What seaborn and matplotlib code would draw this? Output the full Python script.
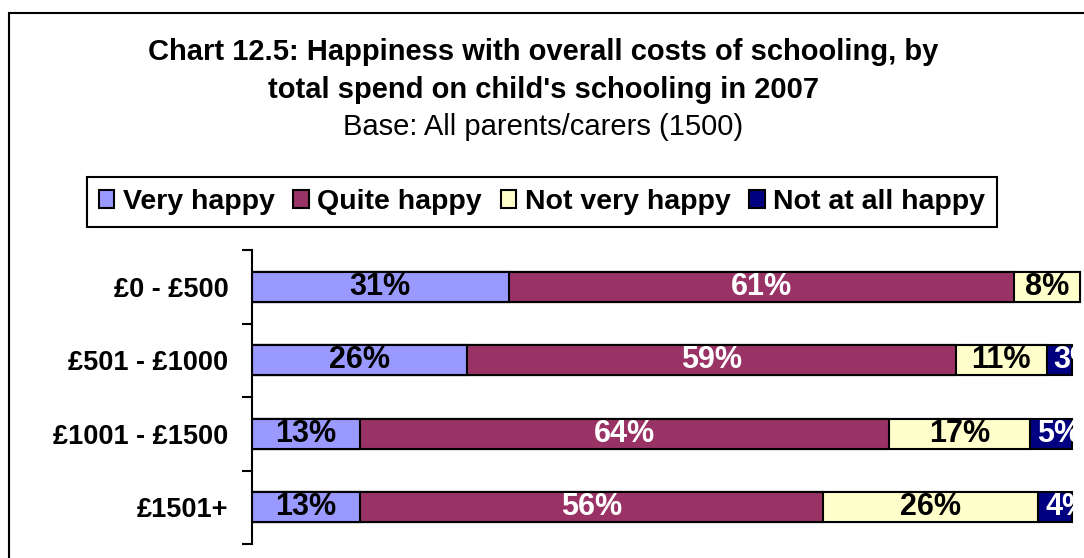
# grafico de barras empilhadas - felicidade com custo escolar por faixa de gasto
import matplotlib
matplotlib.use("Agg")
import matplotlib.pyplot as plt
import seaborn as sns
import pandas as pd
from matplotlib.patches import Patch, Rectangle

# dados
spend_bands = ['£0 - £500', '£501 - £1000', '£1001 - £1500', '£1501+']
very_happy = [31, 26, 13, 13]
quite_happy = [61, 59, 64, 56]
not_very_happy = [8, 11, 17, 26]
not_at_all_happy = [0, 3, 5, 4]

series_names = ['Very happy', 'Quite happy', 'Not very happy', 'Not at all happy']
series_colors = ['#9999FF', '#993366', '#FFFFCC', '#000080']
label_colors = ['black', 'white', 'black', 'white']

df = pd.DataFrame({
    'band': spend_bands,
    'Very happy': very_happy,
    'Quite happy': quite_happy,
    'Not very happy': not_very_happy,
    'Not at all happy': not_at_all_happy,
})
cum = df[series_names].cumsum(axis=1)

sns.set_style("white")
plt.rcParams['font.family'] = ['Liberation Sans', 'DejaVu Sans']
plt.rcParams['text.color'] = 'black'
plt.rcParams['ytick.color'] = 'black'
plt.rcParams['axes.labelcolor'] = 'black'

fig = plt.figure(figsize=(10.84, 5.58), dpi=100)
W, H = 1084, 558
ax = fig.add_axes([252 / W, 14 / H, 832 / W, 294 / H])

# barras empilhadas: desenha do acumulado maior para o menor
for name, color in reversed(list(zip(series_names, series_colors))):
    sns.barplot(x=cum[name], y=df['band'], orient='h', color=color, saturation=1,
                edgecolor='black', linewidth=1.5, width=0.41, ax=ax)

# rotulos de porcentagem
for i in range(len(spend_bands)):
    for j, name in enumerate(series_names):
        v = df.loc[i, name]
        start = cum.loc[i, name] - v
        if j == len(series_names) - 1:
            ax.text(start + 0.8, i, f'{v}%', ha='left', va='center', fontsize=22,
                    fontweight='bold', color=label_colors[j], clip_on=False)
        else:
            ax.text(start + v / 2, i, f'{v}%', ha='center', va='center', fontsize=22,
                    fontweight='bold', color=label_colors[j], clip_on=False)

ax.set_xlim(0, 100.5)
ax.set_ylim(3.5, -0.5)
ax.set_xlabel('')
ax.set_ylabel('')
ax.set_xticks([])
for s in ['top', 'right', 'bottom']:
    ax.spines[s].set_visible(False)
ax.spines['left'].set_color('black')
ax.spines['left'].set_linewidth(1.5)

ax.set_yticks([-0.5, 0.5, 1.5, 2.5, 3.5])
ax.set_yticklabels([])
ax.tick_params(axis='y', which='major', direction='out', length=7.5, width=1.5, color='black', left=True)
ax.set_yticks(range(len(spend_bands)), minor=True)
ax.set_yticklabels(spend_bands, minor=True, fontsize=19.5, fontweight='bold', color='black')
ax.tick_params(axis='y', which='minor', length=0, pad=17)

# legenda
handles = [Patch(facecolor=c, edgecolor='black', linewidth=1.5) for c in series_colors]
leg = fig.legend(handles, series_names, loc='center', bbox_to_anchor=(542 / W, 1 - 202 / H),
                 ncol=4, frameon=True, fancybox=False, edgecolor='black', framealpha=1,
                 prop={'weight': 'bold', 'size': 20.5}, handlelength=0.55, handleheight=0.55,
                 handletextpad=0.3, columnspacing=0.65, borderpad=0.42, borderaxespad=0)
leg.get_frame().set_linewidth(1.5)
for t in leg.get_texts():
    t.set_color('black')

# titulos
fig.text(543 / W, 1 - 52 / H, 'Chart 12.5: Happiness with overall costs of schooling, by',
         ha='center', va='center', fontsize=21, fontweight='bold')
fig.text(543 / W, 1 - 90 / H, "total spend on child's schooling in 2007",
         ha='center', va='center', fontsize=21, fontweight='bold')
fig.text(543 / W, 1 - 127 / H, 'Base: All parents/carers (1500)',
         ha='center', va='center', fontsize=21)

# moldura externa
fig.add_artist(Rectangle((9 / W, -0.1), 1.2, 1.1 - 13 / H, transform=fig.transFigure,
                         fill=False, edgecolor='black', linewidth=1.5))

fig.savefig('out.png', dpi=100)
